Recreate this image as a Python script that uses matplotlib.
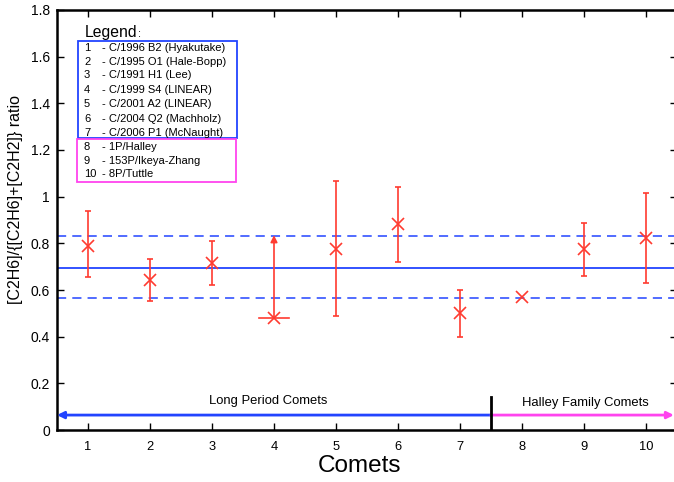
import matplotlib
matplotlib.use("Agg")
import matplotlib.pyplot as plt
from matplotlib.patches import Rectangle
import numpy as np

plt.rcParams['font.family'] = ['Liberation Sans', 'DejaVu Sans']

comets = [1, 2, 3, 4, 5, 6, 7, 8, 9, 10]
ratio = [0.79, 0.645, 0.715, 0.478, 0.775, 0.882, 0.502, 0.571, 0.774, 0.824]
err_low = [0.655, 0.555, 0.62, None, 0.488, 0.718, 0.40, None, 0.66, 0.628]
err_high = [0.94, 0.735, 0.81, None, 1.066, 1.042, 0.602, None, 0.889, 1.016]
limit_comet = 4
limit_upper = 0.835
mean_val = 0.695
mean_hi = 0.831
mean_lo = 0.567

yticks = [0, 0.2, 0.4, 0.6, 0.8, 1.0, 1.2, 1.4, 1.6, 1.8]
ytick_labels = ["0", "0.2", "0.4", "0.6", "0.8", "1", "1.2", "1.4", "1.6", "1.8"]

legend_lp = [("1", "- C/1996 B2 (Hyakutake)"), ("2", "- C/1995 O1 (Hale-Bopp)"),
             ("3", "- C/1991 H1 (Lee)"), ("4", "- C/1999 S4 (LINEAR)"),
             ("5", "- C/2001 A2 (LINEAR)"), ("6", "- C/2004 Q2 (Machholz)"),
             ("7", "- C/2006 P1 (McNaught)")]
legend_hf = [("8", "- 1P/Halley"), ("9", "- 153P/Ikeya-Zhang"), ("10", "- 8P/Tuttle")]

RED = "#ff3b30"
BLUE = "#2244ff"
MAG = "#ff44ee"

W, H = 674, 482
fig = plt.figure(figsize=(W / 100, H / 100), dpi=100)
ax = fig.add_axes([57 / W, (H - 430) / H, (677 - 57) / W, 420 / H])

def fx(px):
    return px / W

def fy(py):
    return (H - py) / H

ax.set_xlim(0.5, 10.5)
ax.set_ylim(0, 1.8)

# mean lines
ax.axhline(mean_val, color=BLUE, lw=1.3, zorder=1)
ax.axhline(mean_hi, color=BLUE, lw=1.1, ls=(0, (6, 4)), zorder=1)
ax.axhline(mean_lo, color=BLUE, lw=1.1, ls=(0, (6, 4)), zorder=1)

# error bars
for c, r, lo, hi in zip(comets, ratio, err_low, err_high):
    if lo is not None:
        ax.errorbar([c], [r], yerr=[[r - lo], [hi - r]], fmt='none', ecolor=RED,
                    elinewidth=1.2, capsize=2.5, capthick=1.2, zorder=3)
ax.plot(comets, ratio, ls='none', marker='x', ms=9, mew=1.2, color=RED, zorder=4)

# lower limit for comet 4
r4 = ratio[comets.index(limit_comet)]
ax.annotate("", xy=(limit_comet, limit_upper), xytext=(limit_comet, r4),
            arrowprops=dict(arrowstyle="-|>", color=RED, lw=1.2, mutation_scale=10,
                            shrinkA=0, shrinkB=0), zorder=3)
ax.plot([limit_comet - 0.24, limit_comet + 0.24], [r4, r4], color=RED, lw=1.2, zorder=3)

# bottom family arrows
ax.annotate("", xy=(0.5, 0.064), xytext=(7.5, 0.064),
            arrowprops=dict(arrowstyle="-|>", color=BLUE, lw=2, mutation_scale=10,
                            shrinkA=0, shrinkB=0))
ax.annotate("", xy=(10.45, 0.064), xytext=(7.5, 0.064),
            arrowprops=dict(arrowstyle="-|>", color=MAG, lw=2, mutation_scale=10,
                            shrinkA=0, shrinkB=0))
ax.plot([7.5, 7.5], [0, 0.143], color='black', lw=2, zorder=5)
ax.text(3.9, 0.126, "Long Period Comets", ha='center', va='center', fontsize=9.4)
ax.text(9.02, 0.117, "Halley Family Comets", ha='center', va='center', fontsize=9.4)

# ticks / axes
ax.set_xticks(comets)
ax.set_xticklabels([str(c) for c in comets], fontsize=9.3)
ax.set_yticks(yticks)
ax.set_yticklabels(ytick_labels, fontsize=10)
ax.tick_params(direction='in', length=5, width=1, top=True, right=True, pad=8)
ax.tick_params(axis='y', pad=5)
for s in ax.spines.values():
    s.set_linewidth(1.8)

ax.set_xlabel("Comets", fontsize=17.5, labelpad=0, va='center')
ax.xaxis.set_label_coords((359 - 57) / (677 - 57), -(465.5 - 430) / 420)
ax.set_ylabel("[C2H6]/{[C2H6]+[C2H2]} ratio", fontsize=11.5, labelpad=6, va='center')
ax.yaxis.set_label_coords(-(57 - 16) / (677 - 57), (430 - 200) / 420)

# legend
fig.text(fx(85), fy(32), "Legend", fontsize=11.3, va='center', ha='left')
fig.text(fx(138), fy(34), ":", fontsize=8, va='center', ha='left')
fig.add_artist(Rectangle((fx(78), fy(138)), fx(237) - fx(78), fy(41) - fy(138),
                         transform=fig.transFigure, fill=False, ec=BLUE, lw=1.3))
fig.add_artist(Rectangle((fx(77), fy(182)), fx(236) - fx(77), fy(139) - fy(182),
                         transform=fig.transFigure, fill=False, ec=MAG, lw=1.3))
ys = [48.3, 62, 75.5, 90, 104.3, 119, 132.7, 146.7, 160.7, 174.3]
for (num, name), yy in zip(legend_lp + legend_hf, ys):
    fig.text(fx(84), fy(yy), num, fontsize=8.0, va='center', ha='left')
    fig.text(fx(101.5), fy(yy), name, fontsize=8.0, va='center', ha='left')

fig.savefig("out.png", dpi=100)
